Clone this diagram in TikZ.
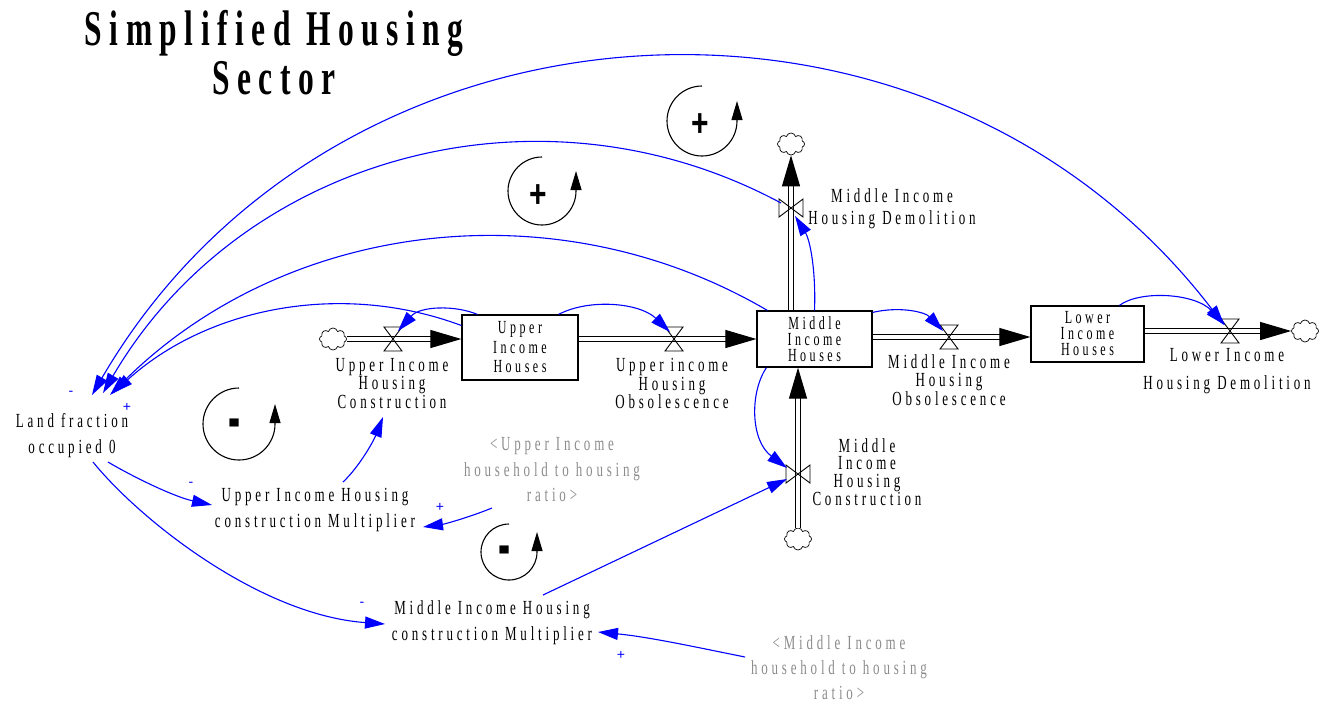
\documentclass[tikz,border=0pt]{standalone}
\usepackage{fontspec}
\usepackage{graphicx}
\usetikzlibrary{arrows.meta,shapes.symbols,calc}
\newfontfamily\lbl[FakeStretch=0.65,LetterSpace=19]{Liberation Serif}
\newfontfamily\ttl[FakeStretch=0.63,LetterSpace=15]{Liberation Serif}
\newfontfamily\sgn{Liberation Sans}
\newcommand\lblfont[1]{\lbl\fontsize{20pt}{#1}\selectfont}
\newcommand\stockfont[1]{\lbl\fontsize{18.5pt}{#1}\selectfont}
\definecolor{shadowgray}{RGB}{140,140,140}
\definecolor{linkblue}{RGB}{0,0,255}

\begin{document}
\begin{tikzpicture}[x=1pt,y=-1pt,
  stock/.style={draw, line width=1.2pt, inner sep=0pt, align=center},
  lab/.style={inner sep=0pt, align=center},
  pipe/.style={draw, line width=1.1pt, double, double distance=3.8pt, -{Triangle[length=31pt,width=18pt]}},
  valve/.style={draw, line width=0.9pt},
  cloudy/.style={cloud, cloud puffs=8, aspect=1.2, draw, line width=0.7pt, minimum width=27pt, minimum height=22pt, inner sep=0pt},
  link/.style={draw=linkblue, line width=1.1pt, -{Triangle[length=20pt,width=12pt]}},
  sign/.style={text=linkblue, font=\sgn\fontsize{14pt}{14pt}\selectfont, inner sep=0pt},
  loopsign/.style={inner sep=0pt, font=\sgn\bfseries\fontsize{30pt}{30pt}\selectfont},
  minussign/.style={inner sep=0pt, font=\sgn\bfseries\fontsize{26pt}{26pt}\selectfont},
  loop/.style={line width=1.1pt, -{Triangle[length=19pt,width=11pt]}},
]
\useasboundingbox (0,0) rectangle (1329,705);

% title
\node[lab, font=\ttl\bfseries\fontsize{50pt}{49pt}\selectfont] (title) at (274,53) {Simplified Housing\\Sector};

% stocks
\node[stock, minimum width=116pt, minimum height=65pt, font=\stockfont{19.5pt}] (uih) at (520,347.5) {Upper\\Income\\Houses};
\node[stock, minimum width=115pt, minimum height=56pt, font=\stockfont{16pt}] (mih) at (814.5,339) {Middle\\Income\\Houses};
\node[stock, minimum width=113pt, minimum height=56pt, font=\stockfont{16pt}] (lih) at (1087.5,334) {Lower\\Income\\Houses};

% sources and sinks
\node[cloudy] (c1) at (333,339) {};
\node[cloudy] (c2) at (1305,331) {};
\node[cloudy] (c3) at (791,144) {};
\node[cloudy] (c4) at (798,539) {};

% valve centres
\coordinate (v1) at (393,339);
\coordinate (v2) at (674,339);
\coordinate (v4) at (949,337);
\coordinate (v5) at (1230,331);
\coordinate (v6) at (791,208);
\coordinate (v7) at (798,474);

% flow pipes
\draw[pipe] (c1.east) -- (uih.west|-v1);
\draw[pipe] (uih.east|-v2) -- (mih.west|-v2);
\draw[pipe] (mih.east|-v4) -- (lih.west|-v4);
\draw[pipe] (lih.east|-v5) -- (c2.west);
\draw[pipe] (mih.north-|v6) -- (c3.south);
\draw[pipe] (c4.north) -- (mih.south-|v7);

% valves on horizontal pipes
\foreach \v in {v1,v2,v4,v5}
  \draw[valve] (\v) ++(-9,-12) -- ++(18,0) -- ++(-18,24) -- ++(18,0) -- cycle;
% valves on vertical pipes
\foreach \v in {v6,v7}
  \draw[valve] (\v) ++(-12,-9) -- ++(0,18) -- ++(24,-18) -- ++(0,18) -- cycle;

% flow labels
\node[lab, font=\lblfont{18.5pt}] (L1) at (392,383.5) {Upper Income\\Housing\\Construction};
\node[lab, font=\lblfont{18.5pt}] (L2) at (672,383.5) {Upper income\\Housing\\Obsolescence};
\node[lab, font=\lblfont{18pt}] (L3) at (949,380) {Middle Income\\Housing\\Obsolescence};
\node[lab, font=\lblfont{28pt}] (L4) at (1227,371) {Lower Income\\Housing Demolition};
\node[lab, font=\lblfont{22pt}] (L5) at (892,209) {Middle Income\\Housing Demolition};
\node[lab, font=\lblfont{17.5pt}] (L6) at (867,472) {Middle\\Income\\Housing\\Construction};

% auxiliaries
\node[lab, font=\lblfont{26pt}] (land) at (72,436) {Land fraction\\occupied 0};
\node[lab, font=\lblfont{26pt}] (um) at (315,510) {Upper Income Housing\\construction Multiplier};
\node[lab, font=\lblfont{26pt}] (mm) at (492,623) {Middle Income Housing\\construction Multiplier};
\node[lab, font=\lblfont{25.5pt}, text=shadowgray] (ur) at (552,470) {<Upper Income\\household to housing\\ratio>};
\node[lab, font=\lblfont{25pt}, text=shadowgray] (mr) at (839,668) {<Middle Income\\household to housing\\ratio>};

% links from stocks to flows
\draw[link] ($(uih.north west)+(16,0)$) .. controls (455,305) and (420,306) .. ($(v1)+(5,-8)$);
\draw[link] ($(uih.north east)+(-20,0)$) .. controls (590,298) and (640,303) .. ($(v2)+(-4,-7)$);
\draw[link] ($(mih.north east)+(0,2)$) .. controls (900,306) and (925,312) .. ($(v4)+(-6,-6)$);
\draw[link] (mih.north) .. controls (816,270) and (810,240) .. ($(v6)+(4,8)$);
\draw[link] ($(lih.north west)+(89,0)$) .. controls (1140,290) and (1195,293) .. ($(v5)+(-5,-6)$);
\draw[link] ($(mih.south west)+(10,0)$) .. controls (750,392) and (750,440) .. ($(v7)+(-11,-6)$);

% links among auxiliaries
\draw[link] ($(mm)+(51,-28)$) -- ($(v7)+(-11,5)$);
\draw[link] ($(um)+(28,-28)$) .. controls (360,466) and (374,440) .. ($(L1)+(-9,33.5)$);
\draw[link] ($(ur)+(-60,38)$) .. controls (470,517) and (445,524) .. ($(um)+(108,17)$);
\draw[link] ($(land)+(36,26)$) .. controls (135,478) and (175,497) .. ($(um)+(-103,-5)$);
\draw[link] ($(land)+(21,26)$) .. controls (140,520) and (260,615) .. ($(mm)+(-107,1)$);
\draw[link] ($(mr)+(-94,-11)$) .. controls (700,648) and (650,637) .. ($(mm)+(106,9)$);

% long arcs around land fraction
\draw[link, {Triangle[length=20pt,width=12pt]}-{Triangle[length=20pt,width=12pt]}]
  ($(land)+(20,-41)$) .. controls (335,-22) and (931,-58) .. ($(v5)+(-6,-6)$);
\draw[link] ($(v6)+(-10,-5)$) .. controls (539,73) and (241,157) .. ($(land)+(31,-43)$);
\draw[link] ($(mih.north west)+(11,0)$) .. controls (555,186) and (285,221) .. ($(land)+(38,-41)$);
\draw[link] ($(uih.west)+(0,-22)$) .. controls (342,281) and (208,307) .. ($(land)+(41,-43)$);

% polarity signs
\node[sign] (p1) at (71,393) {-};
\node[sign] (p2) at (127,407) {+};
\node[sign] (p3) at (191,484) {-};
\node[sign] (p4) at (440,507) {+};
\node[sign] (p5) at (362,604) {-};
\node[sign] (p6) at (621,655) {+};

% loop markers
\node[loopsign] (r1) at (700,125) {\scalebox{1}[1.3]{+}};
\draw[loop] (702,86) arc[start angle=90,end angle=360,radius=35pt] -- ++(0,-20);
\node[loopsign] (r2) at (538,196) {\scalebox{1}[1.3]{+}};
\draw[loop] (542,157) arc[start angle=90,end angle=360,radius=34pt] -- ++(0,-20);
\node[minussign] (r3) at (235,430) {\scalebox{1.4}[2.6]{-}};
\draw[loop] (239,388) arc[start angle=90,end angle=360,radius=36pt] -- ++(0,-20);
\node[minussign] (r4) at (505,557) {\scalebox{1.4}[2.6]{-}};
\draw[loop] (509,524) arc[start angle=90,end angle=360,radius=28pt] -- ++(0,-20);

\end{tikzpicture}
\end{document}
